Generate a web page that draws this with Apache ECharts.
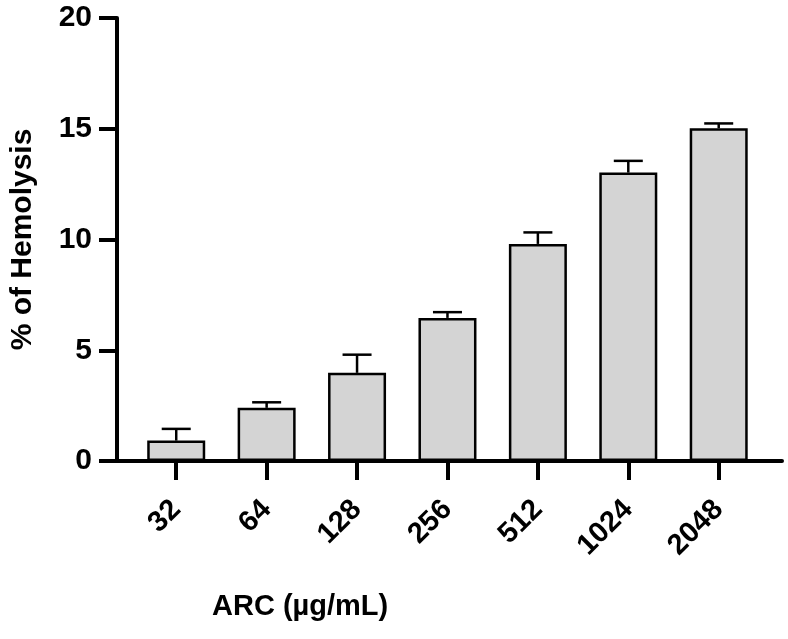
<!DOCTYPE html>
<html><head><meta charset="utf-8">
<script src="https://cdn.jsdelivr.net/npm/echarts@6/dist/echarts.min.js"></script>
<style>html,body{margin:0;padding:0;background:#fff}#c{width:788px;height:639px}</style>
</head><body><div id="c"></div>
<script>
const categories = ['32','64','128','256','512','1024','2048'];
const means = [0.92, 2.4, 3.98, 6.46, 9.8, 13.02, 15.02];
const errors = [0.53, 0.25, 0.82, 0.26, 0.52, 0.53, 0.22];
const yTicks = [0, 5, 10, 15, 20];

const FONT = '"Liberation Sans", Arial, sans-serif';
const idx = categories.map((c, i) => i);
const barData = means.map((m, i) => [i, m]);
const errData = means.map((m, i) => [i, m, m + errors[i]]);

const chart = echarts.init(document.getElementById('c'), null, {renderer: 'canvas'});
chart.setOption({
  animation: false,
  backgroundColor: '#fff',
  title: {
    text: 'ARC (µg/mL)', left: 207, top: 587,
    textStyle: {fontFamily: FONT, fontWeight: 'bold', fontSize: 29, color: '#000'}
  },
  grid: {left: 111, right: 6, top: 18, bottom: 178, containLabel: false},
  xAxis: {
    type: 'value', min: -0.655, max: 6.70,
    splitLine: {show: false},
    axisLine: {show: true, onZero: false, lineStyle: {color: '#000', width: 4}},
    axisTick: {show: true, customValues: idx, length: 19, lineStyle: {color: '#000', width: 4}},
    axisLabel: {
      customValues: idx, rotate: 45, margin: 44,
      formatter: v => categories[Math.round(v)] || '',
      fontFamily: FONT, fontWeight: 'bold', fontSize: 29, color: '#000'
    }
  },
  yAxis: {
    type: 'value', min: 0, max: 20, interval: 5,
    name: '% of Hemolysis', nameLocation: 'middle', nameGap: 79,
    nameTextStyle: {fontFamily: FONT, fontWeight: 'bold', fontSize: 30, color: '#000'},
    splitLine: {show: false},
    axisLine: {show: true, onZero: false, lineStyle: {color: '#000', width: 4}},
    axisTick: {show: true, length: 18, lineStyle: {color: '#000', width: 4}},
    axisLabel: {
      margin: 25, fontFamily: FONT, fontWeight: 'bold', fontSize: 30, color: '#000',
      customValues: yTicks
    }
  },
  series: [
    {
      type: 'bar', data: barData, barWidth: 58,
      itemStyle: {color: '#d4d4d4', borderColor: '#000', borderWidth: 2.5},
      z: 2
    },
    {
      type: 'custom', data: errData, z: 3,
      renderItem: function (params, api) {
        const x = api.value(0);
        const base = api.coord([x, api.value(1)]);
        const top = api.coord([x, api.value(2)]);
        const half = 14.5;
        const st = {stroke: '#000', lineWidth: 2.5};
        return {
          type: 'group',
          children: [
            {type: 'line', shape: {x1: base[0], y1: base[1], x2: top[0], y2: top[1]}, style: st},
            {type: 'line', shape: {x1: top[0] - half, y1: top[1], x2: top[0] + half, y2: top[1]}, style: st}
          ]
        };
      }
    }
  ]
});
</script></body></html>
